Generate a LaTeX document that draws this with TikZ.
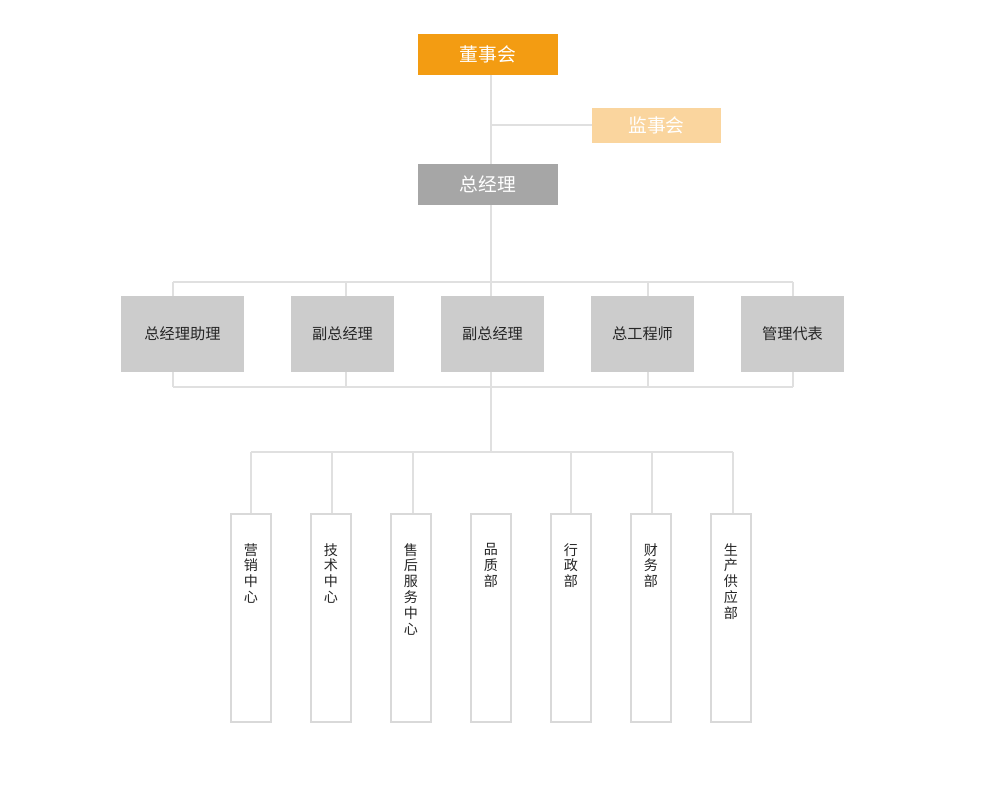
\documentclass[tikz,border=0pt]{standalone}
\usepackage{fontspec}
\setmainfont{Noto Sans CJK SC}
\begin{document}
\begin{tikzpicture}[x=0.03cm,y=-0.03cm,
  ln/.style={draw=black!12,line width=1.4pt},
  top/.style={minimum width=4.2cm,minimum height=1.23cm,inner sep=0pt,text=white,font=\fontsize{16}{18}\selectfont},
  mid/.style={fill=black!20,minimum height=2.28cm,inner sep=0pt,text=black!85,font=\fontsize{13}{15}\selectfont},
  low/.style={draw=black!15,line width=1.6pt,fill=white,minimum width=1.2cm,minimum height=6.24cm,inner sep=0pt,text=black!85,font=\fontsize{12}{13}\selectfont}]
\useasboundingbox (0,0) rectangle (1000,800);
% lines
\coordinate (bus1L) at (173,282); \coordinate (bus1R) at (793,282);
\coordinate (bus2L) at (173,387); \coordinate (bus2R) at (793,387);
\coordinate (bus3L) at (251,452); \coordinate (bus3R) at (733,452);
\coordinate (j1) at (491,125);
\draw[ln] (491,75) -- (491,452);
\draw[ln] (j1) -- (592,125);
\draw[ln] (bus1L) -- (bus1R);
\draw[ln] (bus2L) -- (bus2R);
\draw[ln] (bus3L) -- (bus3R);
\foreach \x in {173,346,648,793} \draw[ln] (\x,282) -- (\x,387);
\foreach \x in {251,332,413,571,652,733} \draw[ln] (\x,452) -- (\x,514);
% top
\node[top,fill={rgb,255:red,243;green,156;blue,18}] (dsh) at (488,54.5) {董事会};
\node[top,fill={rgb,255:red,250;green,213;blue,158},minimum width=3.87cm,minimum height=1.05cm] (jsh) at (656.5,125.5) {监事会};
\node[top,fill=black!35] (zjl) at (488,184.5) {总经理};
% mid
\node[mid,minimum width=3.69cm] (m1) at (182.5,334) {总经理助理};
\node[mid,minimum width=3.09cm] (m2) at (342.5,334) {副总经理};
\node[mid,minimum width=3.09cm] (m3) at (492.5,334) {副总经理};
\node[mid,minimum width=3.09cm] (m4) at (642.5,334) {总工程师};
\node[mid,minimum width=3.09cm] (m5) at (792.5,334) {管理代表};
% low
\foreach \x/\t/\n in {251/{营\\销\\中\\心}/a,331/{技\\术\\中\\心}/b,411/{售\\后\\服\\务\\中\\心}/c,491/{品\\质\\部}/d,571/{行\\政\\部}/e,651/{财\\务\\部}/f,731/{生\\产\\供\\应\\部}/g}{
  \node[low] (\n) at (\x,618) {};
  \node[anchor=north,align=center,inner sep=0pt,font=\fontsize{12}{13.5}\selectfont,text=black!85] at (\x,543) {\t};
}
\end{tikzpicture}
\end{document}
